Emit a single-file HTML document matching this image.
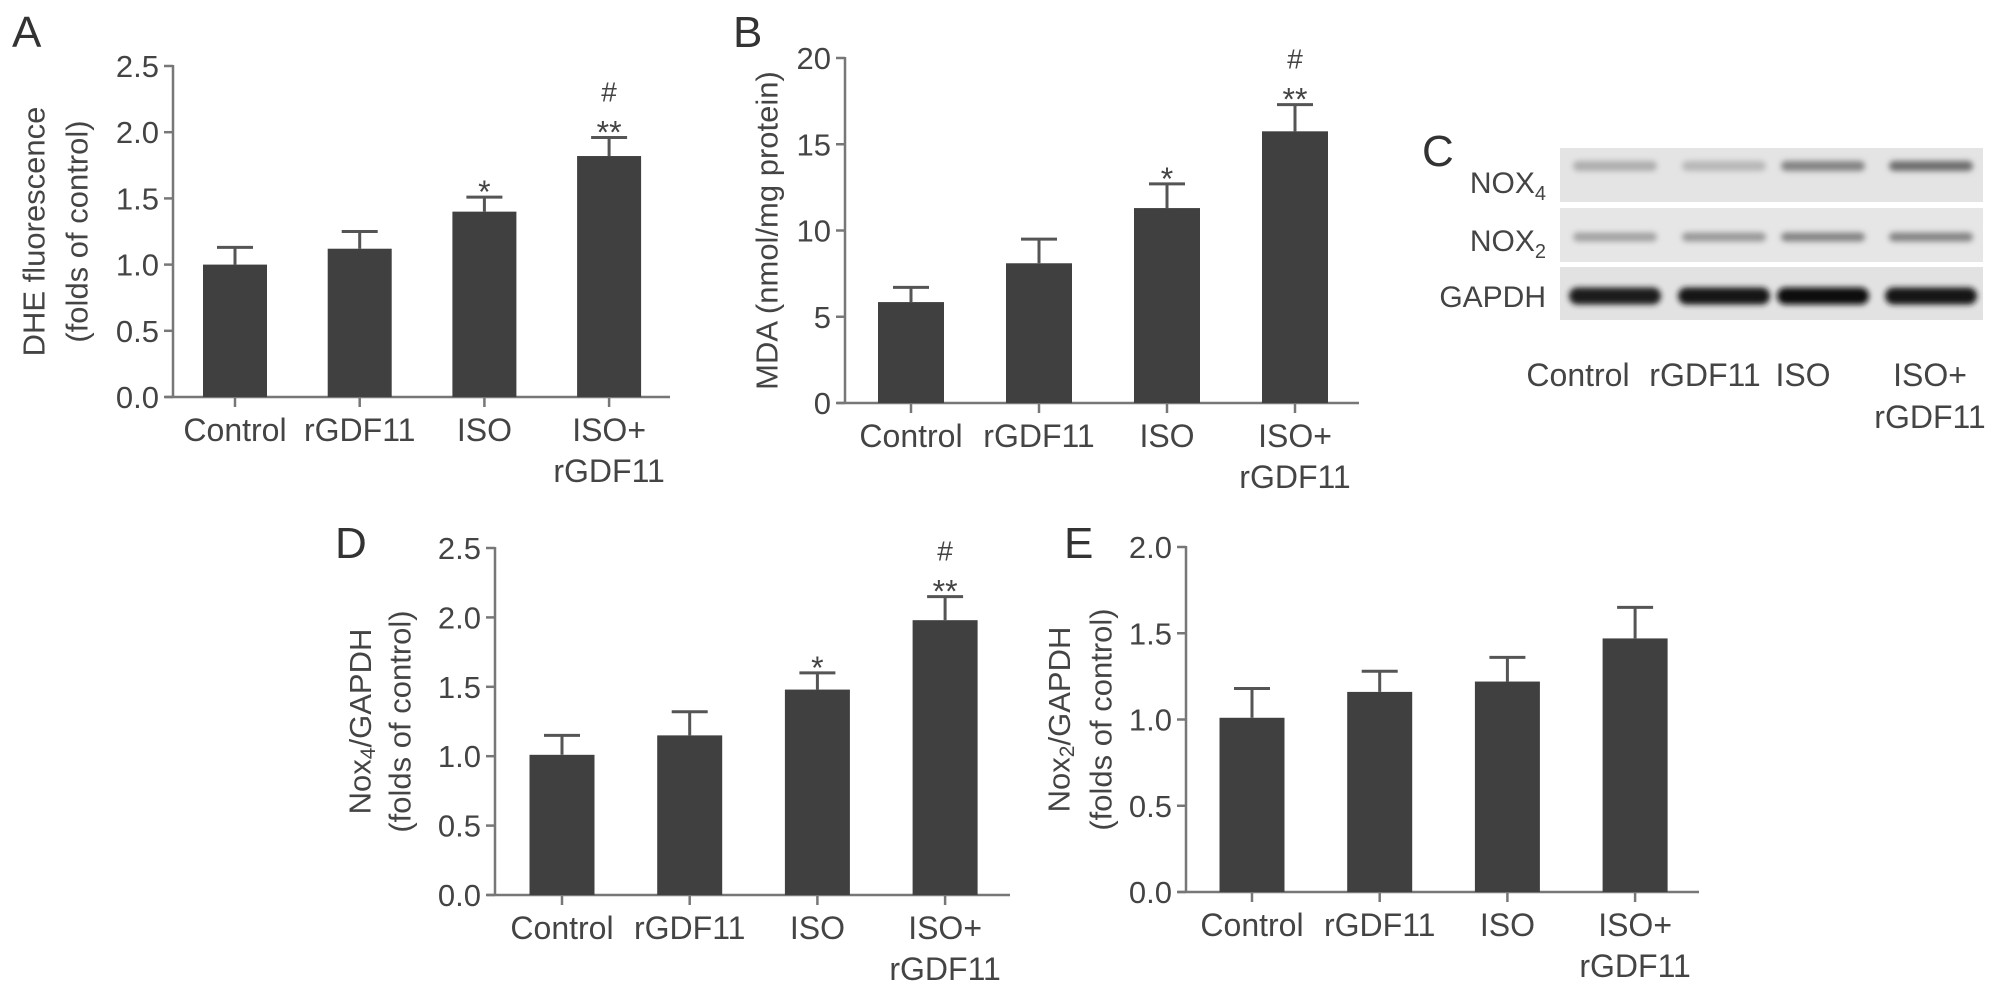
<!DOCTYPE html>
<html><head><meta charset="utf-8"><style>
html,body{margin:0;padding:0;background:#fff;}
svg{display:block;font-family:"Liberation Sans",sans-serif;}
</style></head><body>
<svg id="fig" width="2008" height="991" viewBox="0 0 2008 991">
<defs><filter id="blur" x="-20%" y="-100%" width="140%" height="300%"><feGaussianBlur stdDeviation="3"/></filter></defs>
<g id="blot">
  <text x="1422" y="166" font-size="44" fill="#333">C</text>
  <rect x="1560" y="148" width="423" height="54" fill="#e4e4e4"/>
  <rect x="1560" y="208" width="423" height="54" fill="#e6e6e6"/>
  <rect x="1560" y="267" width="423" height="53" fill="#e2e2e2"/>
  <text x="1546" y="193" font-size="30" fill="#444" text-anchor="end">NOX<tspan font-size="20" dy="7">4</tspan></text>
  <text x="1546" y="251" font-size="30" fill="#444" text-anchor="end">NOX<tspan font-size="20" dy="7">2</tspan></text>
  <text x="1546" y="307" font-size="30" fill="#444" text-anchor="end">GAPDH</text>
</g>
</svg>
<script>
// Panel A: DHE fluorescence
const catsA = ["Control","rGDF11","ISO","ISO+|rGDF11"];
const valsA = [1.00, 1.12, 1.40, 1.82];
const errA = [0.13, 0.13, 0.11, 0.14];
const sigA = ["", "", "*", "**|#"];
const ticksA = ["0.0","0.5","1.0","1.5","2.0","2.5"];
// Panel B: MDA
const valsB = [5.85, 8.1, 11.3, 15.75];
const errB = [0.85, 1.4, 1.4, 1.55];
const sigB = ["", "", "*", "**|#"];
const ticksB = ["0","5","10","15","20"];
// Panel D: Nox4/GAPDH
const valsD = [1.01, 1.15, 1.48, 1.98];
const errD = [0.14, 0.17, 0.12, 0.17];
const sigD = ["", "", "*", "**|#"];
const ticksD = ["0.0","0.5","1.0","1.5","2.0","2.5"];
// Panel E: Nox2/GAPDH
const valsE = [1.01, 1.16, 1.22, 1.47];
const errE = [0.17, 0.12, 0.14, 0.18];
const sigE = ["", "", "", ""];
const ticksE = ["0.0","0.5","1.0","1.5","2.0"];
// Blot band intensities (0-1) per lane
const nox4Band = [0.25, 0.2, 0.45, 0.55];
const nox2Band = [0.3, 0.35, 0.45, 0.45];
const gapdhBand = [0.95, 0.97, 1.0, 0.98];
const blotLabels = ["Control","rGDF11","ISO","ISO+|rGDF11"];

const NS = "http://www.w3.org/2000/svg";
const svg = document.getElementById('fig');
function mk(tag, attrs, parent){
  const e = document.createElementNS(NS, tag);
  for (const k in attrs) e.setAttribute(k, attrs[k]);
  (parent||svg).appendChild(e);
  return e;
}
function multiText(g, x, y, str, size, lh){
  const parts = str.split('|');
  parts.forEach((p,i)=>{
    const t = mk('text',{x:x,y:y+i*lh,'font-size':size,fill:'#444','text-anchor':'middle'},g);
    
    
    t.textContent = p;
  });
}

function drawPanel(cfg){
  const g = mk('g',{});
  
  
  const yMax = cfg.yMax;
  const yScale = v => cfg.y0 - (v / yMax) * (cfg.y0 - cfg.yTop);
  const xScale = i => cfg.first + i * cfg.step;
  const L = mk('text',{x:cfg.letterX,y:cfg.letterY,'font-size':44,fill:'#333'},g);
  
  
  L.textContent = cfg.letter;
  const ya = mk('line',{x1:cfg.ax,y1:cfg.yTop-1,x2:cfg.ax,y2:cfg.y0,stroke:'#777','stroke-width':2.5},g);
  
  
  const xa = mk('line',{x1:cfg.ax-8,y1:cfg.y0,x2:cfg.xEnd,y2:cfg.y0,stroke:'#777','stroke-width':2.5},g);
  
  
  cfg.ticks.forEach((t,i)=>{
    const v = parseFloat(t);
    const y = yScale(v);
    const tk = mk('line',{x1:cfg.ax-9,y1:y,x2:cfg.ax,y2:y,stroke:'#777','stroke-width':2.5},g);
    
    
    const tl = mk('text',{x:cfg.ax-14,y:y+11,'font-size':31,fill:'#444','text-anchor':'end'},g);
    
    
    tl.textContent = t;
  });
  const tg = mk('g',{},g);
  
  
  cfg.title.forEach((line,i)=>{
    const x = cfg.titleX[i], y = (cfg.y0 + cfg.yTop)/2;
    const t = mk('text',{x:x,y:y,'font-size':31,fill:'#444','text-anchor':'middle','dominant-baseline':'central',transform:`rotate(-90 ${x} ${y})`},tg);
    t.innerHTML = line;
  });
  catsA.forEach((c,i)=>{
    const cx = xScale(i);
    const v = cfg.vals[i];
    const top = yScale(v);
    const bar = mk('rect',{x:cx-cfg.bw/2,y:top,width:cfg.bw,height:cfg.y0-top,fill:'#404040'},g);
    
    
    const et = yScale(v + cfg.err[i]);
    const eb = mk('path',{d:`M${cx} ${top} V${et} M${cx-18} ${et} H${cx+18}`,stroke:'#555','stroke-width':3,fill:'none'},g);
    
    
    const xt = mk('line',{x1:cx,y1:cfg.y0,x2:cx,y2:cfg.y0+10,stroke:'#777','stroke-width':2.5},g);
    
    
    multiText(g, cx, cfg.y0+44, c, 32, 41);
    if (cfg.sig[i]) {
      const parts = cfg.sig[i].split('|');
      const s = mk('text',{x:cx,y:et+6,'font-size':32,fill:'#444','text-anchor':'middle'},g);
      
      
      s.textContent = parts[0];
      if (parts[1]) {
        const h = mk('text',{x:cx,y:et-36,'font-size':28,fill:'#444','text-anchor':'middle'},g);
        
        
        h.textContent = parts[1];
      }
    }
  });
}

drawPanel({name:'chart-a-dhe',letter:'A',letterX:12,letterY:47,ax:173,y0:397,yTop:66,yMax:2.5,first:235,step:124.7,bw:64,xEnd:670,
  ticks:ticksA,vals:valsA,err:errA,sig:sigA,title:['DHE fluorescence','(folds of control)'],titleX:[34,77]});
drawPanel({name:'chart-b-mda',letter:'B',letterX:733,letterY:47,ax:845,y0:403,yTop:58,yMax:20,first:911,step:128,bw:66,xEnd:1359,
  ticks:ticksB,vals:valsB,err:errB,sig:sigB,title:['MDA (nmol/mg protein)'],titleX:[767]});
drawPanel({name:'chart-d-nox4',letter:'D',letterX:335,letterY:558,ax:495,y0:895,yTop:548,yMax:2.5,first:562,step:127.7,bw:65,xEnd:1010,
  ticks:ticksD,vals:valsD,err:errD,sig:sigD,title:['Nox<tspan font-size="21" dy="8">4</tspan><tspan dy="-8">/GAPDH</tspan>','(folds of control)'],titleX:[360,400]});
drawPanel({name:'chart-e-nox2',letter:'E',letterX:1064,letterY:558,ax:1186,y0:892,yTop:547,yMax:2.0,first:1252,step:127.7,bw:65,xEnd:1699,
  ticks:ticksE,vals:valsE,err:errE,sig:sigE,title:['Nox<tspan font-size="21" dy="8">2</tspan><tspan dy="-8">/GAPDH</tspan>','(folds of control)'],titleX:[1059,1101]});

const blot = document.getElementById('blot');
const laneX = [1615, 1724, 1823, 1931];
function bands(arr, y, h, w){
  arr.forEach((v,i)=>{
    const c = Math.round(225 - v*210);
    const b = mk('rect',{x:laneX[i]-w/2,y:y-h/2,width:w,height:h,rx:h/2,fill:`rgb(${c},${c},${c})`,filter:'url(#blur)'},blot);
    
    
  });
}
bands(nox4Band, 166, 10, 84);
bands(nox2Band, 237, 9, 84);
bands(gapdhBand, 296, 17, 92);
const blotX = [1578, 1705, 1803, 1930];
blotLabels.forEach((l,i)=>{
  l.split('|').forEach((p,j)=>{
    const t = mk('text',{x:blotX[i],y:386+j*42,'font-size':32,fill:'#444','text-anchor':'middle'},blot);
    
    
    t.textContent = p;
  });
});
</script>
</body></html>
